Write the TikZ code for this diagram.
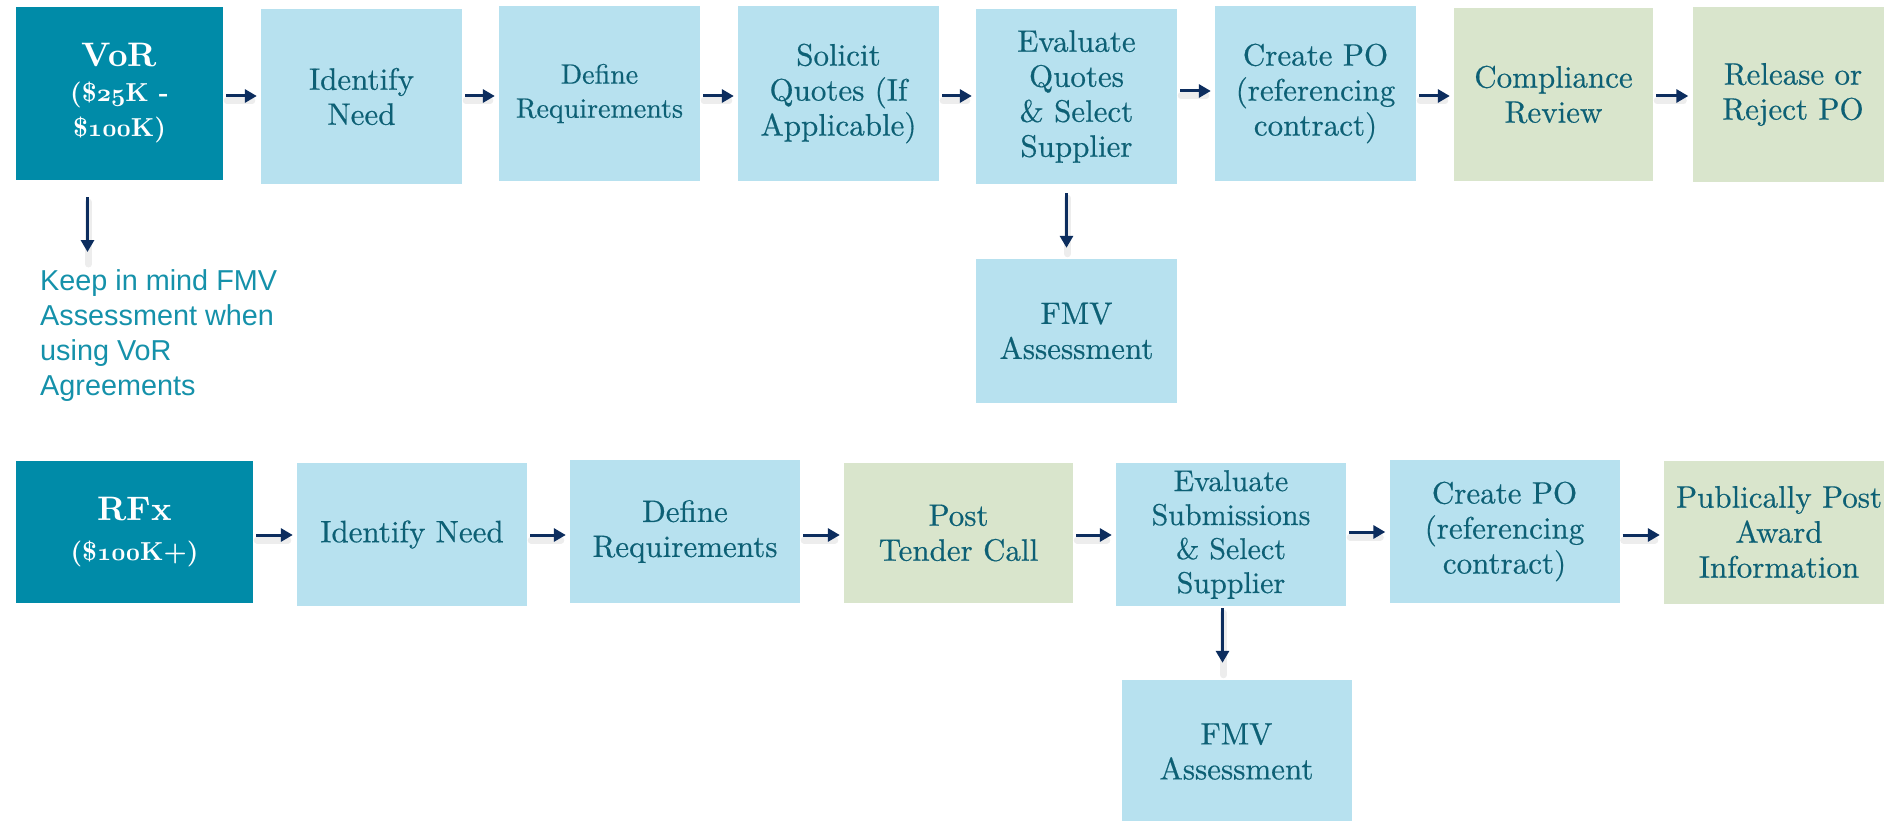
\documentclass[tikz,border=0pt]{standalone}
\usepackage{fontspec}
\newfontfamily\notefont{Liberation Sans}
\newfontfamily\boxfont{lmroman10-regular.otf}[FakeBold=0.5]
\newfontfamily\headfont{lmroman10-bold.otf}
\newcommand\osnum[1]{{\usefont{OML}{cmm}{b}{it}#1}}
\usetikzlibrary{arrows.meta}
\definecolor{darkteal}{HTML}{008BA8}
\definecolor{lightblue}{HTML}{B7E1EF}
\definecolor{lightgreen}{HTML}{D9E5CC}
\definecolor{boxtext}{HTML}{0D6075}
\definecolor{arrowcol}{HTML}{0C2D5E}
\definecolor{notecol}{HTML}{1591AA}
\tikzset{
  stepbox/.style={fill=lightblue, text=boxtext, inner sep=0pt, align=center,
    font=\boxfont\fontsize{31}{35}\selectfont},
  greenbox/.style={stepbox, fill=lightgreen},
  headbox/.style={stepbox, fill=darkteal, text=white,
    font=\headfont\fontsize{26}{35}\selectfont},
  rowone/.style={minimum width=201pt, minimum height=175pt},
  rowtwo/.style={minimum width=230pt, minimum height=143pt},
  flow/.style={draw=arrowcol, line width=3pt,
    -{Triangle[length=12pt,width=13pt]}, shorten <=3pt, shorten >=4pt,
    preaction={draw=black!70, opacity=0.10, line width=7pt, -, line cap=round,
      shorten >=10pt, transform canvas={shift={(1pt,-5pt)}}}},
}
\begin{document}
\begin{tikzpicture}[x=1pt,y=-1pt]
\useasboundingbox (0,0) rectangle (1884,821);
% ---- row 1 ----
\node[headbox, minimum width=207pt, minimum height=173pt] (vor) at (119.5,93.5)
  {{\fontsize{34}{35}\selectfont VoR}\\(\$\osnum{25}K -\\\$\osnum{100}K)};
\node[stepbox, rowone] (id1) at (361.5,96.5) {Identify\\Need};
\node[stepbox, rowone, font=\boxfont\fontsize{28}{34}\selectfont] (def1) at (599.5,93.5) {Define\\Requirements};
\node[stepbox, rowone] (sol) at (838.5,93.5) {Solicit\\Quotes (If\\Applicable)};
\node[stepbox, rowone] (eval1) at (1076.5,96.5) {Evaluate\\Quotes\\\& Select\\Supplier};
\node[stepbox, rowone] (po1) at (1315.5,93.5) {Create PO\\(referencing\\contract)};
\node[greenbox, minimum width=199pt, minimum height=173pt] (comp) at (1553.5,94.5) {Compliance\\Review};
\node[greenbox, rowone] (rel) at (1793,94.5) {Release or\\Reject PO};
\node[stepbox, minimum width=201pt, minimum height=144pt] (fmv1) at (1076.5,331) {FMV\\Assessment};
\node[anchor=north west, inner sep=0pt, align=left, text=notecol,
  font=\notefont\fontsize{28.8}{35}\selectfont] (note) at (40,269)
  {Keep in mind FMV\\Assessment when\\using VoR\\Agreements};
% ---- row 2 ----
\node[headbox, minimum width=237pt, minimum height=142pt, font=\headfont\fontsize{26}{40}\selectfont] (rfx) at (134.5,532)
  {{\fontsize{34}{40}\selectfont RFx}\\(\$\osnum{100}K+)};
\node[stepbox, rowtwo] (id2) at (412,534.5) {Identify Need};
\node[stepbox, rowtwo] (def2) at (685,531.5) {Define\\Requirements};
\node[greenbox, minimum width=229pt, minimum height=140pt] (post) at (958.5,533) {Post\\Tender Call};
\node[stepbox, rowtwo, font=\boxfont\fontsize{30}{34}\selectfont] (eval2) at (1231,534.5) {Evaluate\\Submissions\\\& Select\\Supplier};
\node[stepbox, rowtwo] (po2) at (1504.5,531.5) {Create PO\\(referencing\\contract)};
\node[greenbox, rowtwo] (pub) at (1779,532) {Publically Post\\Award\\Information};
\node[stepbox, rowtwo] (fmv2) at (1236.5,751.5) {FMV\\Assessment};
% ---- connector guides ----
\coordinate (r1) at (0,96);
\coordinate (r2) at (0,535);
\coordinate (vx) at (87.5,0);
\coordinate (e1x) at (1066.5,0);
\coordinate (e2x) at (1222.5,0);
% ---- connectors row 1 ----
\draw[flow] (vor.east |- r1) -- (id1.west |- r1);
\draw[flow] (id1.east |- r1) -- (def1.west |- r1);
\draw[flow] (def1.east |- r1) -- (sol.west |- r1);
\draw[flow] (sol.east |- r1) -- (eval1.west |- r1);
\draw[flow] (eval1.east |- 0,91) -- (po1.west |- 0,91);
\draw[flow] (po1.east |- r1) -- (comp.west |- r1);
\draw[flow] (comp.east |- r1) -- (rel.west |- r1);
\draw[flow, shorten <=17pt, shorten >=17pt] (vor.south -| vx) -- (note.north -| vx);
\draw[flow, shorten <=9pt, shorten >=11pt] (eval1.south -| e1x) -- (fmv1.north -| e1x);
% ---- connectors row 2 ----
\draw[flow] (rfx.east |- r2) -- (id2.west |- r2);
\draw[flow] (id2.east |- r2) -- (def2.west |- r2);
\draw[flow] (def2.east |- r2) -- (post.west |- r2);
\draw[flow] (post.east |- r2) -- (eval2.west |- r2);
\draw[flow] (eval2.east |- 0,532) -- (po2.west |- 0,532);
\draw[flow] (po2.east |- r2) -- (pub.west |- r2);
\draw[flow, shorten <=2pt, shorten >=17pt] (eval2.south -| e2x) -- (fmv2.north -| e2x);
\end{tikzpicture}
\end{document}
